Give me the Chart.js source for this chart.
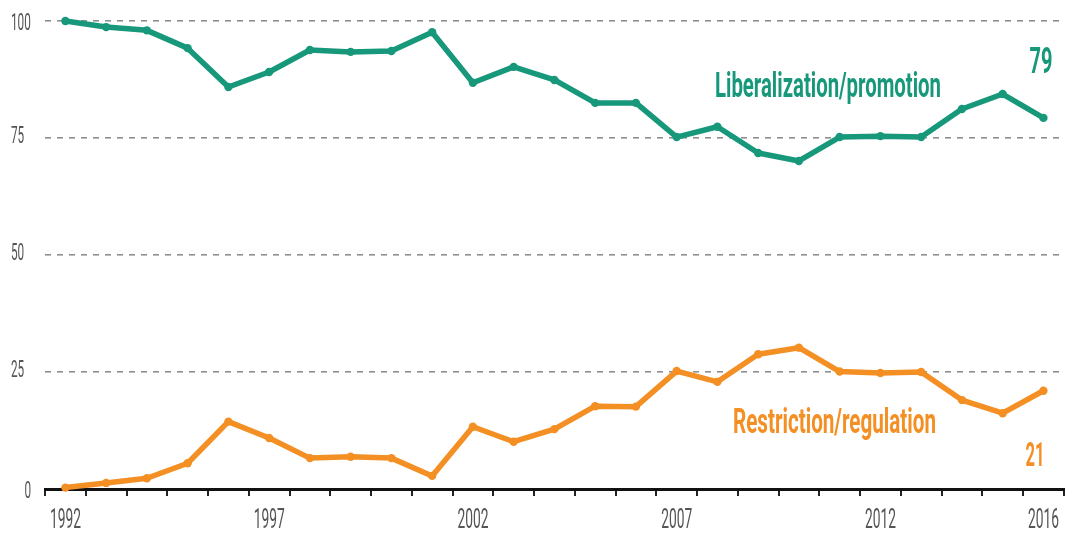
<!DOCTYPE html>
<html>
<head>
<meta charset="utf-8">
<script src="https://cdn.jsdelivr.net/npm/chart.js@4/dist/chart.umd.min.js"></script>
<style>
  html, body { margin: 0; padding: 0; background: #ffffff; }
  #wrap { width: 1068px; height: 533px; }
</style>
</head>
<body>
<div id="wrap"><canvas id="c" width="1068" height="533"></canvas></div>
<script>
const years = ['1992','1993','1994','1995','1996','1997','1998','1999','2000','2001','2002','2003','2004','2005','2006','2007','2008','2009','2010','2011','2012','2013','2014','2015','2016'];
const liberalization = [100, 98.7, 98, 94.2, 85.9, 89.1, 93.8, 93.4, 93.6, 97.6, 86.8, 90.2, 87.4, 82.5, 82.5, 75.2, 77.4, 71.8, 70.1, 75.2, 75.4, 75.2, 81.2, 84.4, 79.3];
const restriction = [0.3, 1.3, 2.3, 5.5, 14.4, 10.9, 6.6, 6.9, 6.6, 2.8, 13.3, 10.1, 12.8, 17.7, 17.6, 25.2, 22.9, 28.8, 30.2, 25.1, 24.8, 25.0, 19.0, 16.2, 21.0];
const yTickValues = [0, 25, 50, 75, 100];
const shownYears = ['1992','1997','2002','2007','2012','2016'];
const seriesNames = ['Liberalization/promotion', 'Restriction/regulation'];

const GREEN = '#17987a';
const ORANGE = '#f48f24';
const GREY_TEXT = '#555555';
const FONT = 'Roboto, "Liberation Sans", sans-serif';

function squash(ctx, text, x, y, size, weight, color, targetW, align) {
  ctx.save();
  ctx.font = weight + ' ' + size + 'px ' + FONT;
  const w = ctx.measureText(text).width;
  const sx = targetW / w;
  ctx.fillStyle = color;
  ctx.textBaseline = 'alphabetic';
  ctx.textAlign = 'left';
  let left = x;
  if (align === 'right') left = x - targetW;
  else if (align === 'center') left = x - targetW / 2;
  ctx.translate(left, y);
  ctx.scale(sx, 1);
  ctx.fillText(text, 0, 0);
  ctx.restore();
}

const textPlugin = {
  id: 'texts',
  afterDraw(chart) {
    const ctx = chart.ctx;
    const xs = chart.scales.x, ys = chart.scales.y;
    years.forEach((yr, i) => {
      if (shownYears.indexOf(yr) === -1) return;
      const px = xs.getPixelForValue(i);
      squash(ctx, yr, px, 528, 27, 'normal', GREY_TEXT, 31, 'center');
    });
    yTickValues.forEach(v => {
      const py = ys.getPixelForValue(v);
      const s = String(v);
      const w = 6.6 * s.length;
      if (v === 0) squash(ctx, s, 31, py + 9, 24, 'normal', GREY_TEXT, w, 'right');
      else squash(ctx, s, 11, py + (v === 100 ? 9 : 5), 24, 'normal', GREY_TEXT, w, 'left');
    });
    squash(ctx, seriesNames[0], 715, 97, 35, 'bold', GREEN, 226, 'left');
    squash(ctx, seriesNames[1], 733, 433, 35, 'bold', ORANGE, 203, 'left');
    const lastX = xs.getPixelForValue(years.length - 1);
    squash(ctx, String(Math.round(liberalization[liberalization.length - 1])), lastX + 9, 73, 36, 'bold', GREEN, 23, 'right');
    squash(ctx, String(Math.round(restriction[restriction.length - 1])), lastX + 1, 466, 34, 'bold', ORANGE, 19, 'right');
  }
};

new Chart(document.getElementById('c'), {
  type: 'line',
  data: {
    labels: years,
    datasets: [
      {
        label: seriesNames[0],
        data: liberalization,
        borderColor: GREEN,
        backgroundColor: GREEN,
        pointBackgroundColor: GREEN,
        pointBorderColor: GREEN,
        borderWidth: 5.5,
        pointRadius: 4.2,
        pointBorderWidth: 0,
        tension: 0,
        clip: false,
        borderJoinStyle: 'round',
        borderCapStyle: 'round'
      },
      {
        label: seriesNames[1],
        data: restriction,
        borderColor: ORANGE,
        backgroundColor: ORANGE,
        pointBackgroundColor: ORANGE,
        pointBorderColor: ORANGE,
        borderWidth: 5.5,
        pointRadius: 4.2,
        pointBorderWidth: 0,
        tension: 0,
        clip: false,
        borderJoinStyle: 'round',
        borderCapStyle: 'round'
      }
    ]
  },
  options: {
    responsive: false,
    animation: false,
    devicePixelRatio: 1,
    layout: { padding: { top: 21, right: 1, left: 0, bottom: 0 } },
    plugins: {
      legend: { display: false },
      tooltip: { enabled: false },
      title: { display: false }
    },
    scales: {
      x: {
        type: 'category',
        offset: true,
        grid: {
          offset: true,
          drawOnChartArea: false,
          drawTicks: true,
          tickLength: 7,
          color: '#222222',
          lineWidth: 2
        },
        border: { display: true, color: '#111111', width: 3 },
        ticks: { display: false, autoSkip: false },
        afterFit(scale) { scale.height = 44; }
      },
      y: {
        min: 0,
        max: 100,
        grid: {
          drawTicks: false,
          color: ctx => (ctx.tick && ctx.tick.value === 0) ? 'rgba(0,0,0,0)' : '#8f8f8f',
          lineWidth: 1.6
        },
        border: { display: false, dash: [6, 6] },
        ticks: { display: false, stepSize: 25 },
        afterFit(scale) { scale.width = 45; }
      }
    }
  },
  plugins: [textPlugin]
});
</script>
</body>
</html>
